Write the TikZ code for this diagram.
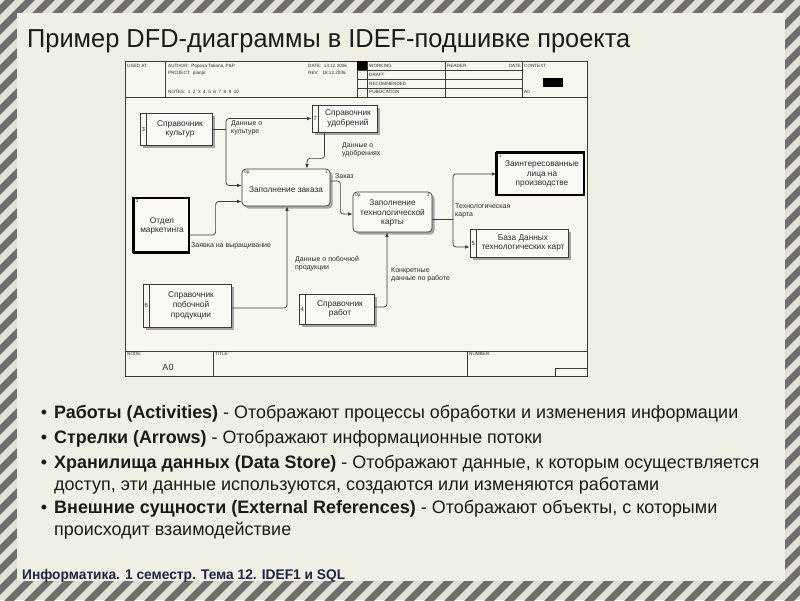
\documentclass[tikz,border=0pt]{standalone}
\usepackage{fontspec}
\setmainfont{Liberation Sans}
\usepackage{graphicx}
\usetikzlibrary{arrows.meta,shadows}
\definecolor{bg}{HTML}{F1EEE5}
\definecolor{paper}{HTML}{F8F6EE}
\definecolor{boxfill}{HTML}{FAF9F3}
\definecolor{stripec}{HTML}{6E6E6E}
\definecolor{stripebg}{HTML}{E2DFD6}
\definecolor{ln}{HTML}{3A3A3A}
\definecolor{shade}{HTML}{A5A5A5}
\definecolor{txt}{HTML}{2A2A2A}
\definecolor{titlec}{HTML}{1A1A1A}
\definecolor{foot}{HTML}{1C2545}
\newcommand\xfit[2]{\resizebox{#1}{\height}{#2}}
\tikzset{
 boxtxt/.style={font=\fontsize{8.3}{9.6}\selectfont, text=txt, align=center, inner sep=0pt},
 storebox/.style={draw=ln, line width=0.7pt, fill=boxfill, drop shadow={shadow xshift=2.5pt, shadow yshift=-2.5pt, fill=shade, opacity=1}, inner sep=0pt},
 actbox/.style={storebox, rounded corners=4pt},
 extbox/.style={draw=black, line width=1.2pt, fill=boxfill, inner sep=0pt},
 flow/.style={draw=ln, line width=0.7pt, rounded corners=3pt, -{Latex[length=4.5pt,width=3.5pt]}},
 lbl/.style={font=\fontsize{7}{8.4}\selectfont, text=txt, align=left, inner sep=0pt, anchor=north west},
 hdr/.style={font=\fontsize{4.6}{5}\selectfont, text=txt, inner sep=0pt, anchor=west},
 num/.style={font=\fontsize{6}{6}\selectfont, text=txt, inner sep=0pt},
 thin/.style={draw=ln, line width=0.5pt},
 bul/.style={anchor=base west, inner sep=0pt, font=\fontsize{18}{18}\selectfont, text=titlec},
}
\begin{document}
\begin{tikzpicture}[x=1pt,y=-1pt]
\useasboundingbox (0,0) rectangle (800,600);
% striped slide border
\begin{scope}
\clip (0,0) rectangle (800,600);
\fill[stripebg] (0,0) rectangle (800,600);
\foreach \i in {-40,...,45} {
  \draw[stripec, line width=7pt] (\i*20,610) -- (\i*20+620,-10);
}
\end{scope}
\fill[bg] (17,13) rectangle (785,581);

% title
\node[anchor=base west, inner sep=0pt, font=\fontsize{26}{26}\selectfont, text=titlec] (title) at (27,47) {\xfit{603pt}{Пример DFD-диаграммы в IDEF-подшивке проекта}};

% diagram frame
\fill[paper] (125,61) rectangle (587,376);
\draw[ln, line width=0.9pt] (125,61) rectangle (587,376);
\draw[thin] (125,97) -- (587,97);
\foreach \x in {165,357,367,445,522} { \draw[thin] (\x,61) -- (\x,97); }
\foreach \y in {70,79,88} { \draw[thin] (357,\y) -- (522,\y); }
\fill[black] (357,61) rectangle (367,70);
\fill[black] (543,78) rectangle (563,87);
\node[hdr] (h1) at (127,66) {USED AT:};
\node[hdr] (h2) at (168,66) {AUTHOR:\ \ Popova Tatiana, P\&P};
\node[hdr] (h3) at (168,73) {PROJECT:\ \ planpr};
\node[hdr] (h4) at (168,92) {NOTES:\ \ 1\ \ 2\ \ 3\ \ 4\ \ 5\ \ 6\ \ 7\ \ 8\ \ 9\ \ 10};
\node[hdr] (h5) at (308,66) {DATE:\ \ 13.12.2006};
\node[hdr] (h6) at (308,73) {REV:\ \ \ 18.12.2006};
\node[hdr] (h7) at (369,66) {WORKING};
\node[hdr] (h8) at (369,75) {DRAFT};
\node[hdr] (h9) at (369,84) {RECOMMENDED};
\node[hdr] (h10) at (369,92) {PUBLICATION};
\node[hdr] (h11) at (447,66) {READER};
\node[hdr, anchor=east] (h12) at (521,66) {DATE};
\node[hdr] (h13) at (524,66) {CONTEXT:};
\node[hdr] (h14) at (524,92) {A0};
% footer of frame
\draw[thin] (125,351) -- (587,351);
\draw[thin] (213,351) -- (213,376);
\draw[thin] (467,351) -- (467,376);
\draw[thin] (555,368) rectangle (587,376);
\node[hdr] (f1) at (127,354) {NODE:};
\node[hdr] (f2) at (215,354) {TITLE:};
\node[hdr] (f3) at (469,354) {NUMBER:};
\node[font=\fontsize{9}{9}\selectfont, text=txt, inner sep=0pt] (f4) at (168,367) {A0};

% stores
\node[storebox, minimum width=72pt, minimum height=32pt] (S3) at (176,129) {};
\node[storebox, minimum width=65pt, minimum height=27pt] (S7) at (344.5,118.5) {};
\node[storebox, minimum width=88pt, minimum height=43pt] (S6) at (187,305.5) {};
\node[storebox, minimum width=75pt, minimum height=30pt] (S4) at (336.5,309) {};
\node[storebox, minimum width=98pt, minimum height=28pt] (S5) at (519,243) {};
\foreach \n/\k in {S3/3,S7/7,S6/6,S4/4,S5/5} {
  \draw[ln, line width=0.6pt] ([xshift=7pt]\n.north west) -- ([xshift=7pt]\n.south west);
  \node[num] (\n n) at ([xshift=3.6pt]\n.west) {\k};
}
\node[boxtxt] (S3t) at (180,129) {Справочник\\культур};
\node[boxtxt] (S7t) at (348,118.5) {Справочник\\удобрений};
\node[boxtxt] (S6t) at (191,305.5) {Справочник\\побочной\\продукции};
\node[boxtxt] (S4t) at (340,309) {Справочник\\работ};
\node[boxtxt] (S5t) at (523,243) {База Данных\\технологических карт};

% activities
\node[actbox, minimum width=88pt, minimum height=37pt] (A1) at (286,187.5) {};
\node[boxtxt] (A1t) at (286,190) {Заполнение заказа};
\node[actbox, minimum width=79pt, minimum height=40pt] (A2) at (392.5,212) {};
\node[boxtxt] (A2t) at (392.5,213) {Заполнение\\технологической\\карты};
\foreach \n/\k in {A1/1,A2/2} {
  \node[num, font=\fontsize{4.5}{5}\selectfont, anchor=north west] (\n a) at ([shift={(2.5pt,-2pt)}]\n.north west) {0р.};
  \node[num, font=\fontsize{4.5}{5}\selectfont, anchor=north east] (\n b) at ([shift={(-2.5pt,-2pt)}]\n.north east) {\k};
}

% external entities
\node[extbox, minimum width=55pt, minimum height=54pt] (E2) at (161.5,225) {};
\draw[black, line width=2.6pt] (E2.north west) -- (E2.south west);
\draw[black, line width=2.2pt] (E2.south west) -- (E2.south east);
\node[boxtxt] (E2t) at (162,226) {Отдел\\маркетинга};
\node[num, font=\fontsize{4.5}{5}\selectfont, anchor=north west] (E2n) at ([shift={(2.5pt,-2pt)}]E2.north west) {2};
\node[extbox, minimum width=87pt, minimum height=42pt] (E1) at (540.5,174) {};
\draw[black, line width=2.6pt] (E1.north west) -- (E1.south west);
\draw[black, line width=2.2pt] (E1.north west) -- (E1.north east);
\node[boxtxt] (E1t) at (542,174) {Заинтересованные\\лица на\\производстве};
\node[num, font=\fontsize{4.5}{5}\selectfont, anchor=north west] (E1n) at ([shift={(2.5pt,-2pt)}]E1.north west) {1};

% connectors
\coordinate (j1) at (226,129);
\draw[flow, -] (S3.east) -- (j1);
\draw[flow] (j1) |- (S7.west);
\draw[flow] (j1) |- ([yshift=2pt]A1.west);
\draw[flow] ([xshift=-20pt]S7.south) -- ++(0,26) -| ([xshift=21pt]A1.north);
\draw[flow] ([yshift=6.5pt]A1.east) -- ++(10,0) |- ([yshift=-2pt]A2.west);
\draw[flow] ([yshift=-10pt]E2.east) -- ++(26,0) |- ([yshift=-14pt]A1.west);
\draw[flow] ([yshift=-2.5pt]S6.east) -| ([xshift=1pt]A1.south);
\draw[flow] ([yshift=2pt]S4.east) -| ([xshift=-5.5pt]A2.south);
\coordinate (j2) at (453,219);
\draw[flow, -] ([yshift=-7pt]A2.east) -- (j2);
\draw[flow] (j2) |- (E1.west);
\draw[flow] (j2) |- ([yshift=-4pt]S5.west);

% labels
\node[lbl] (l1) at (231,120) {Данные о\\культуре};
\node[lbl] (l2) at (342,142) {Данные о\\удобрениях};
\node[lbl, anchor=west] (l3) at (335,176) {Заказ};
\node[lbl, anchor=west] (l4) at (191,246) {Заявка на выращивание};
\node[lbl] (l5) at (295,256) {Данные о побочной\\продукции};
\node[lbl] (l6) at (391,267) {Конкретные\\данные по работе};
\node[lbl] (l7) at (455,203) {Технологическая\\карта};

% bullets
\foreach \y/\n in {418/d1,443/d2,468/d3,513/d5} {
  \node[bul, anchor=base] (\n) at (44,\y) {•};
}
\node[bul] (b1) at (54,418) {\xfit{684pt}{\textbf{Работы (Activities)} - Отображают процессы обработки и изменения информации}};
\node[bul] (b2) at (54,443) {\xfit{488pt}{\textbf{Стрелки (Arrows)} - Отображают информационные потоки}};
\node[bul] (b3) at (54,468) {\xfit{705pt}{\textbf{Хранилища данных (Data Store)} - Отображают данные, к которым осуществляется}};
\node[bul] (b4) at (54,490) {\xfit{605pt}{доступ, эти данные используются, создаются или изменяются работами}};
\node[bul] (b5) at (54,513) {\xfit{663pt}{\textbf{Внешние сущности (External References)} - Отображают объекты, с которыми}};
\node[bul] (b6) at (54,535) {\xfit{237pt}{происходит взаимодействие}};

% footer
\node[anchor=base west, inner sep=0pt, font=\bfseries\fontsize{14}{14}\selectfont, text=foot] (foot) at (22,579) {\xfit{323pt}{Информатика. 1 семестр. Тема 12. IDEF1 и SQL}};
\end{tikzpicture}
\end{document}
